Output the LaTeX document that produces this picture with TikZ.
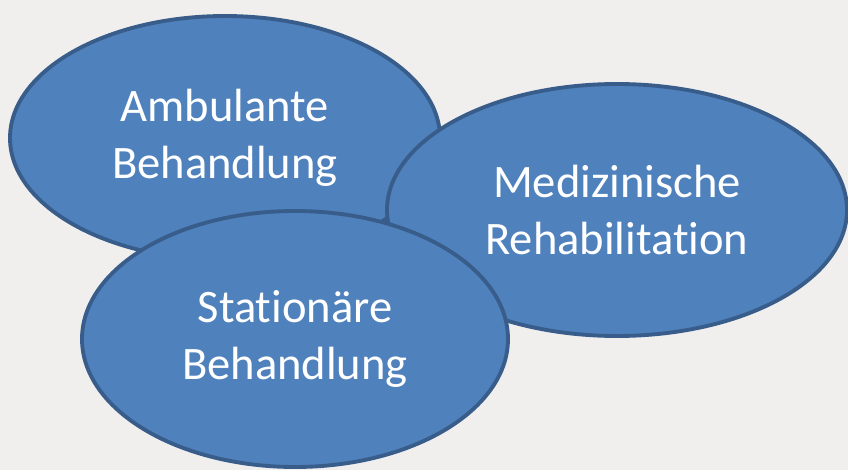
\documentclass[tikz,border=0pt]{standalone}
\usepackage{fontspec}
\setmainfont{Carlito}[Ligatures=NoCommon, RawFeature={-calt;-clig;-dlig}]
\usepackage{xcolor}
\usepackage{tikz}
\usetikzlibrary{shapes.geometric}

\definecolor{slidebg}{RGB}{240,239,238}
\definecolor{bubblefill}{RGB}{79,129,189}
\definecolor{bubbleline}{RGB}{56,93,138}

\begin{document}
\begin{tikzpicture}
		\fill [slidebg] (0, 0) rectangle (16.96, 9.4);
		\useasboundingbox (0, 0) rectangle (16.96, 9.4);

		\begin{scope}[every node/.style={ellipse, draw = bubbleline, fill = bubblefill, line width = 2.2pt,
				text = white, align = center, inner sep = 0pt,
				font = \fontsize{26.5}{32.3}\selectfont}]
		\node (amb) [minimum width = 8.6cm, minimum height = 4.88cm] at (4.5, 6.64) {Ambulante\\Behandlung};
		\node (reha) [minimum width = 9.2cm, minimum height = 5.04cm] at (12.34, 5.2) {Medizinische\\Rehabilitation};
		\node (stat) [minimum width = 8.52cm, minimum height = 5.12cm] at (5.9, 2.62) {Stationäre\\Behandlung};
		\end{scope}

\end{tikzpicture}
\end{document}
